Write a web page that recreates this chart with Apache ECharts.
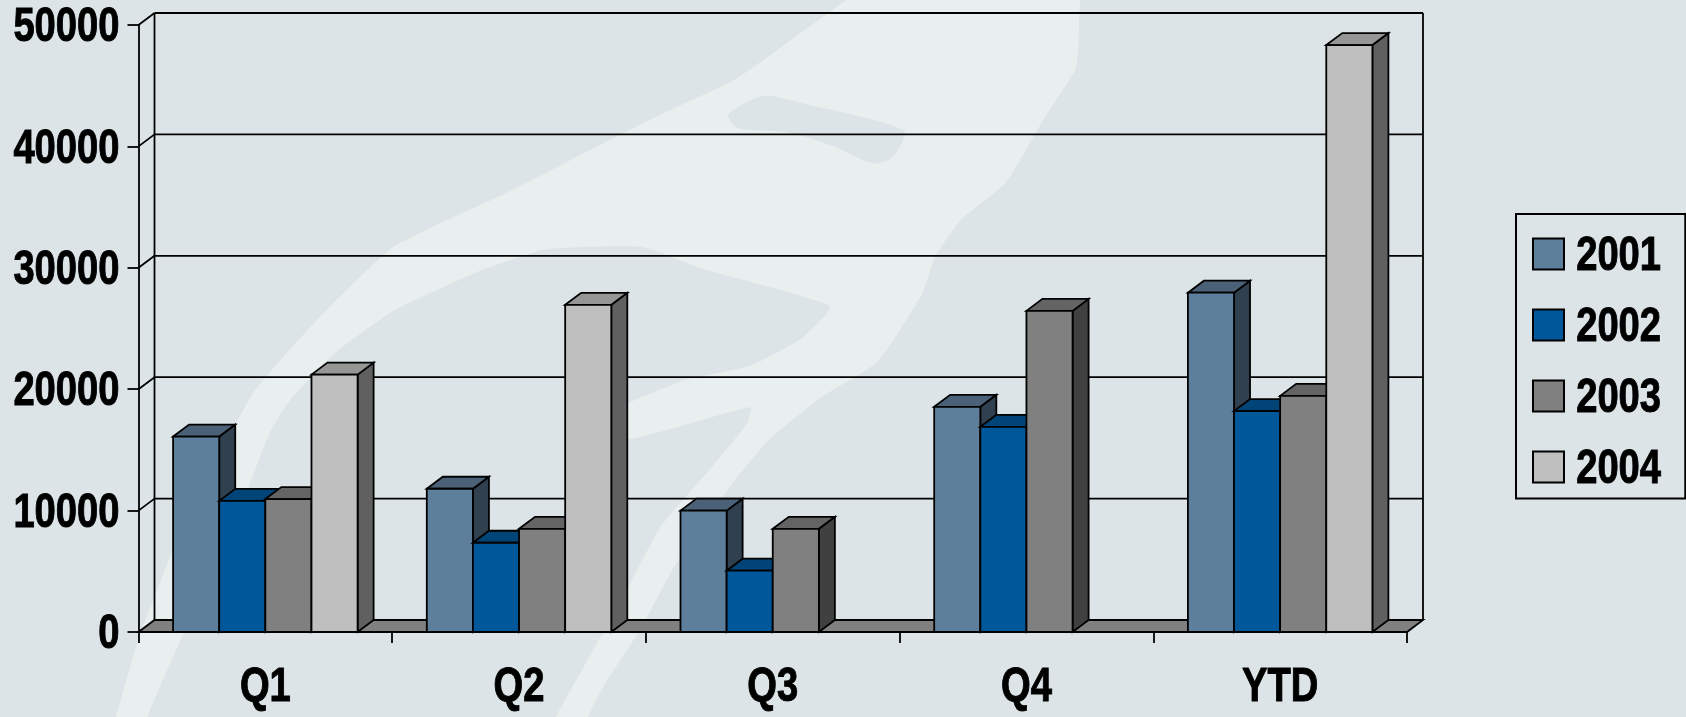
<!DOCTYPE html>
<html>
<head>
<meta charset="utf-8">
<style>html,body{margin:0;padding:0;background:#dce4e7}#c{width:1686px;height:717px}</style>
<script src="https://cdn.jsdelivr.net/npm/echarts@6/dist/echarts.min.js"></script>
</head>
<body>
<div id="c"></div>
<script>
var categories = ['Q1', 'Q2', 'Q3', 'Q4', 'YTD'];
var years = ['2001', '2002', '2003', '2004'];
var s2001 = [16100, 11800, 10000, 18550, 27950];
var s2002 = [10800, 7350, 5050, 16900, 18200];
var s2003 = [10950, 8500, 8500, 26450, 19450];
var s2004 = [21200, 26950, null, null, 48350];
var yTicks = [0, 10000, 20000, 30000, 40000, 50000];

var frontColors = ['#5d7f9b', '#00589a', '#808080', '#bfbfbf'];
var topColors   = ['#4a6177', '#004478', '#646464', '#969696'];
var sideColors  = ['#30404f', '#002c50', '#404040', '#606060'];
var DX = 16, DY = 12, LINE = 1.8, BAR_FRACTION = 1 / 5.5, NARROW = 0.795, TEXT_DROP = 3;

// Decorative watermark outlines (crop units mapped onto the page)
var lightOutline = [[-5,1720],[25,1568],[60,1400],[130,1150],[240,860],[340,700],[460,540],[640,420],[850,270],[1000,170],[1170,0],[1300,-120],[1530,-120],[1535,60],[1530,150],[1480,260],[1420,400],[1350,480],[1310,560],[1290,640],[1220,790],[1130,870],[1050,960],[990,1060],[900,1240],[850,1370],[790,1500],[765,1568],[710,1720]];
var darkMiddle = [[40,1720],[74,1568],[130,1389],[190,1220],[265,950],[298,875],[370,770],[460,680],[600,590],[700,545],[850,540],[950,590],[1145,670],[1100,740],[1020,800],[920,830],[830,880],[780,920],[830,960],[1020,890],[1015,925],[960,1020],[880,1150],[830,1280],[770,1430],[715,1568],[670,1720]];
var darkUpper = [[985,250],[1040,210],[1100,225],[1260,285],[1245,340],[1215,358],[1150,320],[1080,290],[1000,280]];
function page(pts) { return pts.map(function (p) { return [100 + p[0] / 1.568, p[1] / 2.187]; }); }

var chart = echarts.init(document.getElementById('c'), null, { renderer: 'canvas' });

function barSeries(idx, values) {
  return {
    name: years[idx],
    type: 'custom',
    z: 5 + idx,
    itemStyle: { color: frontColors[idx], borderColor: '#000', borderWidth: LINE },
    data: values.map(function (v, i) { return [i, v]; }),
    encode: { x: 0, y: 1 },
    renderItem: function (params, api) {
      var v = api.value(1);
      if (v == null || isNaN(v)) return null;
      var cat = api.value(0);
      var top = api.coord([cat, v]);
      var base = api.coord([cat, 0]);
      var w = api.size([1, 0])[0] * BAR_FRACTION;
      var x0 = top[0] + (idx - 2) * w, x1 = x0 + w;
      var stroke = { stroke: '#000', lineWidth: LINE, lineJoin: 'miter' };
      return {
        type: 'group',
        children: [
          { type: 'polygon', shape: { points: [[x1, top[1]], [x1 + DX, top[1] - DY], [x1 + DX, base[1] - DY], [x1, base[1]]] },
            style: Object.assign({ fill: sideColors[idx] }, stroke) },
          { type: 'polygon', shape: { points: [[x0, top[1]], [x0 + DX, top[1] - DY], [x1 + DX, top[1] - DY], [x1, top[1]]] },
            style: Object.assign({ fill: topColors[idx] }, stroke) },
          { type: 'rect', shape: { x: x0, y: top[1], width: w, height: base[1] - top[1] },
            style: Object.assign({ fill: frontColors[idx] }, stroke) }
        ]
      };
    }
  };
}

var wallSeries = {
  type: 'custom',
  silent: true,
  z: 3,
  data: yTicks.map(function (t) { return [0, t]; }),
  encode: { x: 0, y: 1 },
  renderItem: function (params, api) {
    var t = api.value(1);
    var sz = api.size([1, 0])[0];
    var p = api.coord([0, t]);
    var left = p[0] - sz / 2, right = left + sz * categories.length;
    var y = p[1];
    var st = { stroke: '#000', lineWidth: LINE, fill: null };
    var kids = [];
    if (t === 0) {
      var topY = api.coord([0, yTicks[yTicks.length - 1]])[1] - DY;
      kids.push({ type: 'polygon', shape: { points: [[left, y], [left + DX, y - DY], [right + DX, y - DY], [right, y]] },
        style: { fill: '#808080', stroke: '#000', lineWidth: LINE } });
      kids.push({ type: 'line', shape: { x1: left + DX, y1: y - DY, x2: left + DX, y2: topY }, style: st });
      kids.push({ type: 'line', shape: { x1: right + DX, y1: y - DY, x2: right + DX, y2: topY }, style: st });
    } else {
      kids.push({ type: 'line', shape: { x1: left, y1: y, x2: left + DX, y2: y - DY }, style: st });
      kids.push({ type: 'line', shape: { x1: left + DX, y1: y - DY, x2: right + DX, y2: y - DY }, style: st });
    }
    return { type: 'group', children: kids };
  }
};

var axisFont = { fontFamily: '"Liberation Sans", sans-serif', fontWeight: 'bold', fontSize: 48, color: '#000', textBorderColor: '#000', textBorderWidth: 1 };

chart.setOption({
  animation: false,
  backgroundColor: '#dce4e7',
  graphic: { elements: [
    { type: 'polygon', silent: true, z: -3, shape: { points: page(lightOutline), smooth: 0.15 }, style: { fill: '#e9efef' } },
    { type: 'polygon', silent: true, z: -2, shape: { points: page(darkMiddle), smooth: 0.15 }, style: { fill: '#dce4e7' } },
    { type: 'polygon', silent: true, z: -2, shape: { points: page(darkUpper), smooth: 0.25 }, style: { fill: '#dce4e7' } }
  ] },
  grid: { left: 138.5, right: 279, top: 25, bottom: 85, outerBoundsMode: 'none' },
  xAxis: {
    type: 'category',
    data: categories,
    axisLine: { lineStyle: { color: '#000', width: LINE } },
    axisTick: { show: true, length: 11, lineStyle: { color: '#000', width: LINE } },
    axisLabel: Object.assign({ margin: 29, interval: 0 }, axisFont)
  },
  yAxis: {
    type: 'value', min: 0, max: 50000, interval: 10000,
    splitLine: { show: false },
    axisLine: { show: true, lineStyle: { color: '#000', width: LINE } },
    axisTick: { show: true, length: 11, lineStyle: { color: '#000', width: LINE } },
    axisLabel: Object.assign({ margin: 19, padding: [2, 0, 0, 0], formatter: function (v) { return String(v); } }, axisFont)
  },
  legend: {
    orient: 'vertical',
    left: 1516, top: 214,
    padding: [15.5, 0, 7, 16],
    itemGap: 22, itemWidth: 31, itemHeight: 31,
    backgroundColor: 'transparent',
    borderColor: '#000', borderWidth: 2,
    selectedMode: false,
    icon: 'rect',
    data: years.map(function (y, i) {
      return { name: y, icon: 'rect', itemStyle: { color: frontColors[i], borderColor: '#000', borderWidth: 2 } };
    }),
    textStyle: { fontFamily: axisFont.fontFamily, fontWeight: 'bold', fontSize: 48, color: '#000', textBorderColor: '#000', textBorderWidth: 1, lineHeight: 31, width: 98, padding: [0, 0, 0, 9], overflow: 'none' }
  },
  series: [wallSeries, barSeries(0, s2001), barSeries(1, s2002), barSeries(2, s2003), barSeries(3, s2004)]
});

// No condensed bold face is installed: squeeze the real text labels horizontally.
var zr = chart.getZr();
var seen = [];
zr.storage.getDisplayList(true).forEach(function (d) {
  var t = d.parent;
  if (d.type === 'tspan' && t && t.type === 'text' && seen.indexOf(t) < 0) {
    seen.push(t);
    t.originX = t.style.x || 0;
    t.scaleX = NARROW;
    t.y += TEXT_DROP;
    t.markRedraw();
  }
});
zr.refreshImmediately();
</script>
</body>
</html>
